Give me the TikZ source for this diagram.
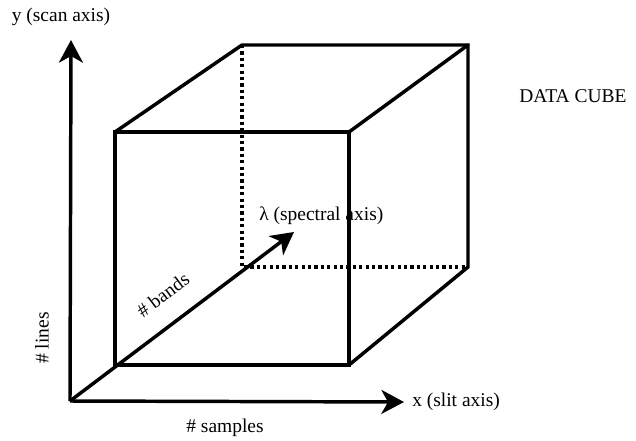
\documentclass[tikz,border=0pt]{standalone}
\usepackage{fontspec}
\setmainfont{Liberation Serif}
\usetikzlibrary{arrows.meta}
\tikzstyle{edge} = [line width=2.6pt, line cap=round, line join=miter]
\tikzstyle{hidden} = [line width=2.6pt, dash pattern=on 2.4pt off 2.4pt]
\tikzstyle{axis} = [line width=2.6pt, -{Stealth[length=17pt, width=18pt, inset=5pt]}]
\tikzstyle{lbl} = [font=\fontsize{14.6}{16}\selectfont, inner sep=0pt]

\begin{document}
\begin{tikzpicture}[x=0.75pt, y=-0.75pt]
  \useasboundingbox (0,0) rectangle (636,440);

  % axes
  \coordinate (o)  at (70,401);
  \coordinate (yt) at (71,40);
  \coordinate (xt) at (404,402);
  \coordinate (lt) at (294,232);

  % cube corners, front face
  \coordinate (f1) at (115,132);
  \coordinate (f2) at (349,132);
  \coordinate (f3) at (349,365);
  \coordinate (f4) at (115,365);
  % back face
  \coordinate (b1) at (242,45);
  \coordinate (b2) at (468,45);
  \coordinate (b3) at (468,267);
  \coordinate (b4) at (242,267);

  \draw[hidden] (b1) -- (b4) -- (b3);
  \draw[edge] (f1) -- (f2) -- (f3) -- (f4) -- cycle;
  \draw[edge] (f1) -- (b1) -- (b2) -- (b3) -- (f3);
  \draw[edge] (f2) -- (b2);

  \draw[axis] (o) -- (yt);
  \draw[axis] (o) -- (xt);
  \draw[axis] (o) -- (lt);

  \node[lbl] (ylab) at (61,17) {y (scan axis)};
  \node[lbl] (cube) at (573,96) {DATA CUBE};
  \node[lbl, anchor=west] (llab) at (259,216) {λ (spectral axis)};
  \node[lbl, anchor=west] (xlab) at (412,402) {x (slit axis)};
  \node[lbl] (nsam) at (225,428) {\# samples};
  \node[lbl, rotate=90] (nlin) at (42,338) {\# lines};
  \node[lbl, rotate=37] (nban) at (163,295) {\# bands};
\end{tikzpicture}
\end{document}
